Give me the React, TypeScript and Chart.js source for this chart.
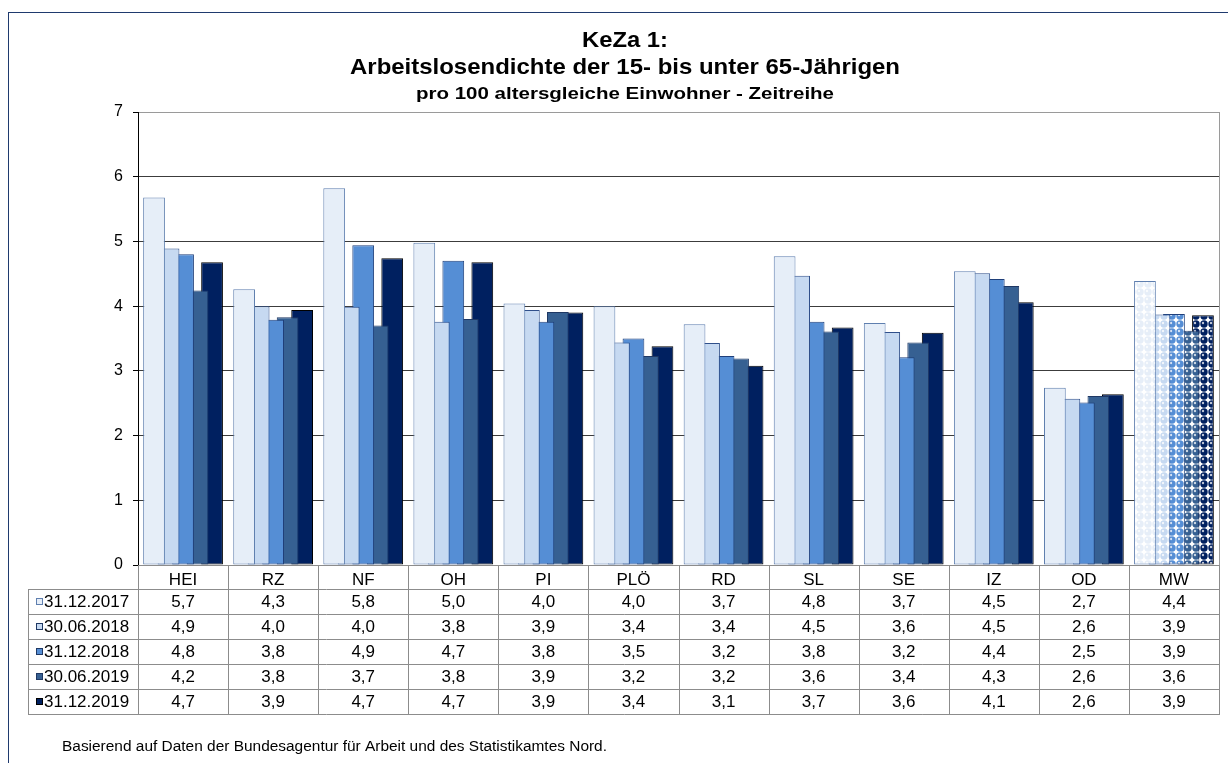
import React, { useEffect, useRef } from "react";
import { Chart, registerables } from "chart.js";

Chart.register(...registerables);

const categories = ["HEI", "RZ", "NF", "OH", "PI", "PLÖ", "RD", "SL", "SE", "IZ", "OD", "MW"];
const seriesLabels = ["31.12.2017", "30.06.2018", "31.12.2018", "30.06.2019", "31.12.2019"];

const s2017_12 = [5.68, 4.26, 5.82, 4.98, 4.04, 4.0, 3.72, 4.77, 3.74, 4.54, 2.74, 4.39];
const s2018_06 = [4.89, 4.0, 3.99, 3.76, 3.94, 3.44, 3.43, 4.47, 3.6, 4.51, 2.57, 3.87];
const s2018_12 = [4.8, 3.79, 4.94, 4.7, 3.76, 3.5, 3.23, 3.76, 3.21, 4.42, 2.51, 3.88];
const s2019_06 = [4.24, 3.83, 3.7, 3.8, 3.91, 3.23, 3.19, 3.61, 3.44, 4.31, 2.61, 3.62];
const s2019_12 = [4.68, 3.94, 4.74, 4.68, 3.9, 3.38, 3.08, 3.67, 3.59, 4.06, 2.64, 3.86];

const seriesValues = [s2017_12, s2018_06, s2018_12, s2019_06, s2019_12];
const yTicks = [0, 1, 2, 3, 4, 5, 6, 7];

const titleLines = ["KeZa 1:", "Arbeitslosendichte der 15- bis unter 65-Jährigen"];
const subTitle = "pro 100 altersgleiche Einwohner - Zeitreihe";
const footer = "Basierend auf Daten der Bundesagentur für Arbeit und des Statistikamtes Nord.";

const fills = ["#E6EEF8", "#C6D9F1", "#558ED5", "#366092", "#002060"];
const borders = ["#5F7FAF", "#2F4F8A", "#1F3F7A", "#1F3864", "#000000"];
const FONT = "'Liberation Sans', Arial, sans-serif";

function makePattern(color: string): CanvasPattern | string {
  const c = document.createElement("canvas");
  c.width = 8;
  c.height = 8;
  const g = c.getContext("2d");
  if (!g) return color;
  g.fillStyle = "#ffffff";
  g.fillRect(0, 0, 8, 8);
  g.fillStyle = color;
  g.beginPath();
  g.arc(4, 4, 3.7, 0, Math.PI * 2);
  g.fill();
  g.fillStyle = "rgba(255,255,255,0.75)";
  g.beginPath();
  g.arc(3, 3, 1.2, 0, Math.PI * 2);
  g.fill();
  const p = g.createPattern(c, "repeat");
  return p || color;
}

function drawFit(
  ctx: CanvasRenderingContext2D,
  text: string,
  x: number,
  y: number,
  font: string,
  targetW: number | null,
  align: CanvasTextAlign
) {
  ctx.font = font;
  const w = ctx.measureText(text).width;
  const sx = targetW ? targetW / w : 1;
  ctx.save();
  ctx.translate(x, y);
  ctx.scale(sx, 1);
  ctx.textAlign = align;
  ctx.textBaseline = "alphabetic";
  ctx.fillText(text, 0, 0);
  ctx.restore();
}

const decorPlugin = {
  id: "decor",
  afterDraw(chart: any) {
    const ctx: CanvasRenderingContext2D = chart.ctx;
    const area = chart.chartArea;
    const xs = chart.scales.x;
    const n = categories.length;
    const cw = (area.right - area.left) / n;
    ctx.save();

    // outer frame
    ctx.strokeStyle = "#1F3A6E";
    ctx.lineWidth = 1;
    ctx.strokeRect(8.5, 12.5, 1400, 900);

    // titles
    ctx.fillStyle = "#000";
    drawFit(ctx, titleLines[0], 625, 47, `bold 22px ${FONT}`, 86, "center");
    drawFit(ctx, titleLines[1], 625, 73.5, `bold 22px ${FONT}`, 550, "center");
    drawFit(ctx, subTitle, 625, 99, `bold 17px ${FONT}`, 418, "center");

    // plot right border and top
    ctx.strokeStyle = "#9a9a9a";
    ctx.beginPath();
    ctx.moveTo(Math.round(area.right) + 0.5, area.top);
    ctx.lineTo(Math.round(area.right) + 0.5, area.bottom);
    ctx.stroke();

    // data table
    const tLeft = 28.5;
    const headTop = area.bottom;
    const rowTop = headTop + 24;
    const rowH = 25;
    const tBottom = rowTop + rowH * seriesValues.length;
    ctx.strokeStyle = "#8c8c8c";
    ctx.lineWidth = 1;
    ctx.beginPath();
    // horizontal lines
    ctx.moveTo(area.left, Math.round(headTop) + 0.5);
    ctx.lineTo(area.right, Math.round(headTop) + 0.5);
    for (let r = 0; r <= seriesValues.length; r++) {
      const y = Math.round(rowTop + r * rowH) + 0.5;
      ctx.moveTo(tLeft, y);
      ctx.lineTo(Math.round(area.right) + 1, y);
    }
    // vertical lines
    ctx.moveTo(tLeft, Math.round(rowTop));
    ctx.lineTo(tLeft, Math.round(tBottom) + 1);
    for (let k = 0; k <= n; k++) {
      const x = Math.round(xs.getPixelForValue(Math.min(k, n - 1)) + (k === n ? cw / 2 : -cw / 2)) + 0.5;
      ctx.moveTo(x, Math.round(headTop));
      ctx.lineTo(x, Math.round(tBottom) + 1);
    }
    ctx.stroke();

    ctx.fillStyle = "#000";
    const tf = `17px ${FONT}`;
    categories.forEach((c, i) => {
      drawFit(ctx, c, xs.getPixelForValue(i), headTop + 20, tf, null, "center");
    });
    seriesValues.forEach((vals, r) => {
      const top = rowTop + r * rowH;
      // legend key
      ctx.fillStyle = fills[r];
      ctx.fillRect(36, Math.round(top + 9), 7, 7);
      ctx.strokeStyle = r === 0 ? "#5F7FAF" : borders[r] === "#000000" ? "#000" : "#1F3864";
      ctx.strokeRect(36.5, Math.round(top + 9) + 0.5, 6, 6);
      ctx.fillStyle = "#000";
      drawFit(ctx, seriesLabels[r], 44, top + 17.5, tf, null, "left");
      vals.forEach((v, i) => {
        drawFit(ctx, v.toFixed(1).replace(".", ","), xs.getPixelForValue(i), top + 17.5, tf, null, "center");
      });
    });

    // footer
    drawFit(ctx, footer, 62, 751, `14px ${FONT}`, 545, "left");
    ctx.restore();
  },
};

export default function App() {
  const ref = useRef<HTMLCanvasElement | null>(null);
  useEffect(() => {
    document.body.style.margin = "0";
    const canvas = ref.current;
    if (!canvas) return;
    const datasets = seriesValues.map((vals, i) => {
      const pat = makePattern(fills[i]);
      return {
        label: seriesLabels[i],
        data: vals,
        backgroundColor: categories.map((c, j) => (c === "MW" ? pat : fills[i])),
        borderColor: borders[i],
        borderWidth: 1,
        borderSkipped: false,
        categoryPercentage: 0.805,
        barPercentage: 1.5,
      };
    });
    const chart = new Chart(canvas, {
      type: "bar",
      data: { labels: categories, datasets: datasets as any },
      options: {
        responsive: false,
        animation: false,
        devicePixelRatio: 1,
        layout: { padding: { left: 0, right: 9, top: 112, bottom: 198 } },
        plugins: {
          legend: { display: false },
          tooltip: { enabled: false },
          title: { display: false },
        },
        scales: {
          x: { display: false },
          y: {
            min: 0,
            max: 7,
            afterBuildTicks: (s: any) => {
              s.ticks = yTicks.map((v) => ({ value: v }));
            },
            afterFit: (s: any) => {
              s.width = 138;
            },
            ticks: {
              font: { family: FONT, size: 16 },
              color: "#000",
              padding: 10,
            },
            grid: {
              color: (c: any) =>
                c.tick && (c.tick.value === 7 || c.tick.value === 0) ? "#9a9a9a" : "#3c3c3c",
              tickColor: "#000",
              tickLength: 5,
              lineWidth: 1,
            },
            border: { display: true, color: "#000", width: 1 },
          },
        },
      } as any,
      plugins: [decorPlugin],
    });
    return () => chart.destroy();
  }, []);
  return (
    <div style={{ position: "absolute", left: 0, top: 0, width: 1228, height: 763, background: "#fff" }}>
      <canvas ref={ref} width={1228} height={763} style={{ width: 1228, height: 763, display: "block" }} />
    </div>
  );
}
